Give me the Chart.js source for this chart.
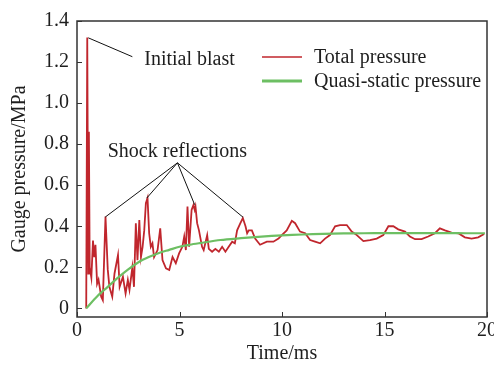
<!DOCTYPE html>
<html>
<head>
<meta charset="utf-8">
<script src="https://cdn.jsdelivr.net/npm/chart.js@4"></script>
<style>
html,body{margin:0;padding:0;background:#fff;}
canvas{display:block;}
</style>
</head>
<body>
<canvas id="c" width="494" height="367"></canvas>
<script>
// ---- data ----
const timeTotal = [0.45,0.50,0.55,0.58,0.62,0.70,0.78,0.84,0.90,0.98,1.05,1.18,1.26,1.39,1.50,1.58,1.72,1.83,2.00,2.08,2.24,2.37,2.48,2.56,2.70,2.78,2.87,2.95,3.04,3.12,3.20,3.28,3.36,3.44,3.52,3.60,3.68,3.76,3.93,4.06,4.17,4.34,4.50,4.66,4.82,4.98,5.14,5.23,5.31,5.39,5.47,5.59,5.68,5.74,5.78,5.86,5.95,6.10,6.18,6.35,6.43,6.59,6.75,6.92,7.08,7.24,7.40,7.57,7.70,7.81,7.97,8.09,8.22,8.30,8.38,8.53,8.69,8.93,9.26,9.58,9.83,9.99,10.23,10.48,10.64,10.88,11.13,11.37,11.61,11.86,12.10,12.34,12.59,12.83,13.16,13.40,13.65,13.97,14.29,14.62,14.94,15.19,15.43,15.67,16.00,16.24,16.49,16.81,17.13,17.46,17.70,17.95,18.27,18.60,18.92,19.25,19.57,19.86];
const pressureTotal = [0.00,1.32,0.17,0.86,0.20,0.15,0.33,0.25,0.31,0.12,0.14,0.057,0.04,0.447,0.19,0.105,0.057,0.17,0.26,0.105,0.154,0.073,0.138,0.09,0.20,0.105,0.415,0.235,0.43,0.25,0.30,0.38,0.512,0.537,0.366,0.30,0.317,0.25,0.284,0.39,0.235,0.195,0.187,0.25,0.22,0.268,0.30,0.35,0.284,0.496,0.30,0.48,0.504,0.48,0.496,0.415,0.38,0.30,0.284,0.357,0.29,0.276,0.29,0.276,0.30,0.276,0.30,0.325,0.317,0.38,0.415,0.44,0.40,0.366,0.38,0.38,0.34,0.31,0.325,0.325,0.34,0.357,0.38,0.427,0.415,0.374,0.366,0.333,0.325,0.317,0.34,0.357,0.40,0.406,0.406,0.374,0.357,0.328,0.333,0.34,0.357,0.40,0.40,0.385,0.374,0.35,0.337,0.337,0.35,0.366,0.39,0.38,0.369,0.366,0.346,0.34,0.346,0.362];
const timeQuasi = [0.45,1.0,1.5,2.0,2.5,3.0,3.5,4.0,4.5,5.0,5.5,6.0,7.0,8.0,9.0,10.0,11.0,12.0,13.0,14.0,15.0,16.0,17.0,18.0,19.0,19.9];
const pressureQuasi = [0.0,0.06,0.105,0.15,0.19,0.225,0.25,0.27,0.285,0.30,0.31,0.318,0.333,0.342,0.35,0.356,0.36,0.363,0.365,0.366,0.367,0.367,0.367,0.367,0.366,0.366];
const xTickValues = [0,5,10,15,20];
const yTickValues = [0,0.2,0.4,0.6,0.8,1.0,1.2,1.4];
const seriesNames = ['Total pressure','Quasi-static pressure'];
// annotations in data units
const blastLabel = {text:'Initial blast', from:[0.55,1.318], to:[2.70,1.226], textAt:[3.28,1.21]};
const shockLabel = {text:'Shock reflections', textAt:[4.9,0.762], apex:[4.9,0.709],
  targets:[[1.38,0.445],[3.40,0.537],[5.74,0.505],[8.10,0.444]]};

const FONT = "'Liberation Serif','Times New Roman',serif";
const RED = '#c0262d';
const GREEN = '#6dbf63';
const TEXT = '#1e1e1e';
const FS = 20;

const frameAndExtras = {
  id:'frameAndExtras',
  afterDraw(chart){
    const ctx = chart.ctx, a = chart.chartArea;
    const xs = chart.scales.x, ys = chart.scales.y;
    ctx.save();
    // frame
    ctx.strokeStyle = '#333';
    ctx.lineWidth = 1.5;
    ctx.strokeRect(a.left, a.top, a.right - a.left, a.bottom - a.top);
    // inward ticks
    ctx.lineWidth = 1;
    ctx.beginPath();
    xTickValues.forEach(v=>{
      const px = Math.round(xs.getPixelForValue(v))+0.5;
      ctx.moveTo(px, a.bottom); ctx.lineTo(px, a.bottom-5);
    });
    yTickValues.forEach(v=>{
      const py = Math.round(ys.getPixelForValue(v))+0.5;
      ctx.moveTo(a.left, py); ctx.lineTo(a.left+5, py);
    });
    ctx.stroke();
    // annotations
    const P = p => [xs.getPixelForValue(p[0]), ys.getPixelForValue(p[1])];
    ctx.strokeStyle = '#111';
    ctx.lineWidth = 1;
    ctx.beginPath();
    let f = P(blastLabel.from), t = P(blastLabel.to);
    ctx.moveTo(f[0],f[1]); ctx.lineTo(t[0],t[1]);
    const ap = P(shockLabel.apex);
    shockLabel.targets.forEach(tg=>{
      const q = P(tg);
      ctx.moveTo(ap[0],ap[1]); ctx.lineTo(q[0],q[1]);
    });
    ctx.stroke();
    ctx.fillStyle = TEXT;
    ctx.font = FS + 'px ' + FONT;
    ctx.textBaseline = 'middle';
    ctx.textAlign = 'left';
    let tp = P(blastLabel.textAt);
    ctx.fillText(blastLabel.text, tp[0], tp[1]);
    ctx.textAlign = 'center';
    tp = P(shockLabel.textAt);
    ctx.fillText(shockLabel.text, tp[0], tp[1]);
    // legend
    const ds = chart.data.datasets;
    const lx = a.left + 185, ly = a.top + 36, gap = 24;
    [0,1].forEach(i=>{
      const d = ds.find(s=>s.label===seriesNames[i]);
      const y = ly + i*gap;
      ctx.strokeStyle = d.borderColor;
      ctx.lineWidth = i===0 ? 1.5 : 3;
      ctx.beginPath(); ctx.moveTo(lx, y); ctx.lineTo(lx+40, y); ctx.stroke();
      ctx.fillStyle = TEXT;
      ctx.textAlign = 'left';
      ctx.fillText(d.label, lx+52, y+1);
    });
    ctx.restore();
  }
};

new Chart(document.getElementById('c'), {
  type:'line',
  data:{
    datasets:[
      {label:seriesNames[1], data:timeQuasi.map((t,i)=>({x:t,y:pressureQuasi[i]})),
       borderColor:GREEN, borderWidth:2.2, pointRadius:0, tension:0.3, order:0},
      {label:seriesNames[0], data:timeTotal.map((t,i)=>({x:t,y:pressureTotal[i]})),
       borderColor:RED, borderWidth:1.8, pointRadius:0, tension:0, order:1}
    ]
  },
  options:{
    responsive:false,
    animation:false,
    layout:{padding:{top:21,right:7,left:0,bottom:0}},
    plugins:{legend:{display:false}, tooltip:{enabled:false}},
    scales:{
      x:{type:'linear', min:0, max:20,
        afterBuildTicks(s){ s.ticks = xTickValues.map(v=>({value:v})); },
        afterFit(s){ s.height = 50; s.paddingLeft = 0; s.paddingRight = 0; },
        grid:{display:false, drawTicks:false}, border:{display:false},
        ticks:{color:TEXT, font:{family:FONT,size:FS}, padding:2, maxRotation:0,
          callback:v=>String(v)},
        title:{display:true, text:'Time/ms', color:TEXT, font:{family:FONT,size:FS}, padding:{top:0,bottom:1}}
      },
      y:{type:'linear', min:-0.042, max:1.4,
        afterBuildTicks(s){ s.ticks = yTickValues.map(v=>({value:v})); },
        afterFit(s){ s.width = 77; },
        grid:{display:false, drawTicks:false}, border:{display:false},
        ticks:{color:TEXT, font:{family:FONT,size:FS}, padding:8,
          callback:v=> v===0 ? '0' : v.toFixed(1)},
        title:{display:true, text:'Gauge pressure/MPa', color:TEXT, font:{family:FONT,size:FS}, padding:{top:8,bottom:0}}
      }
    }
  },
  plugins:[frameAndExtras]
});
</script>
</body>
</html>
